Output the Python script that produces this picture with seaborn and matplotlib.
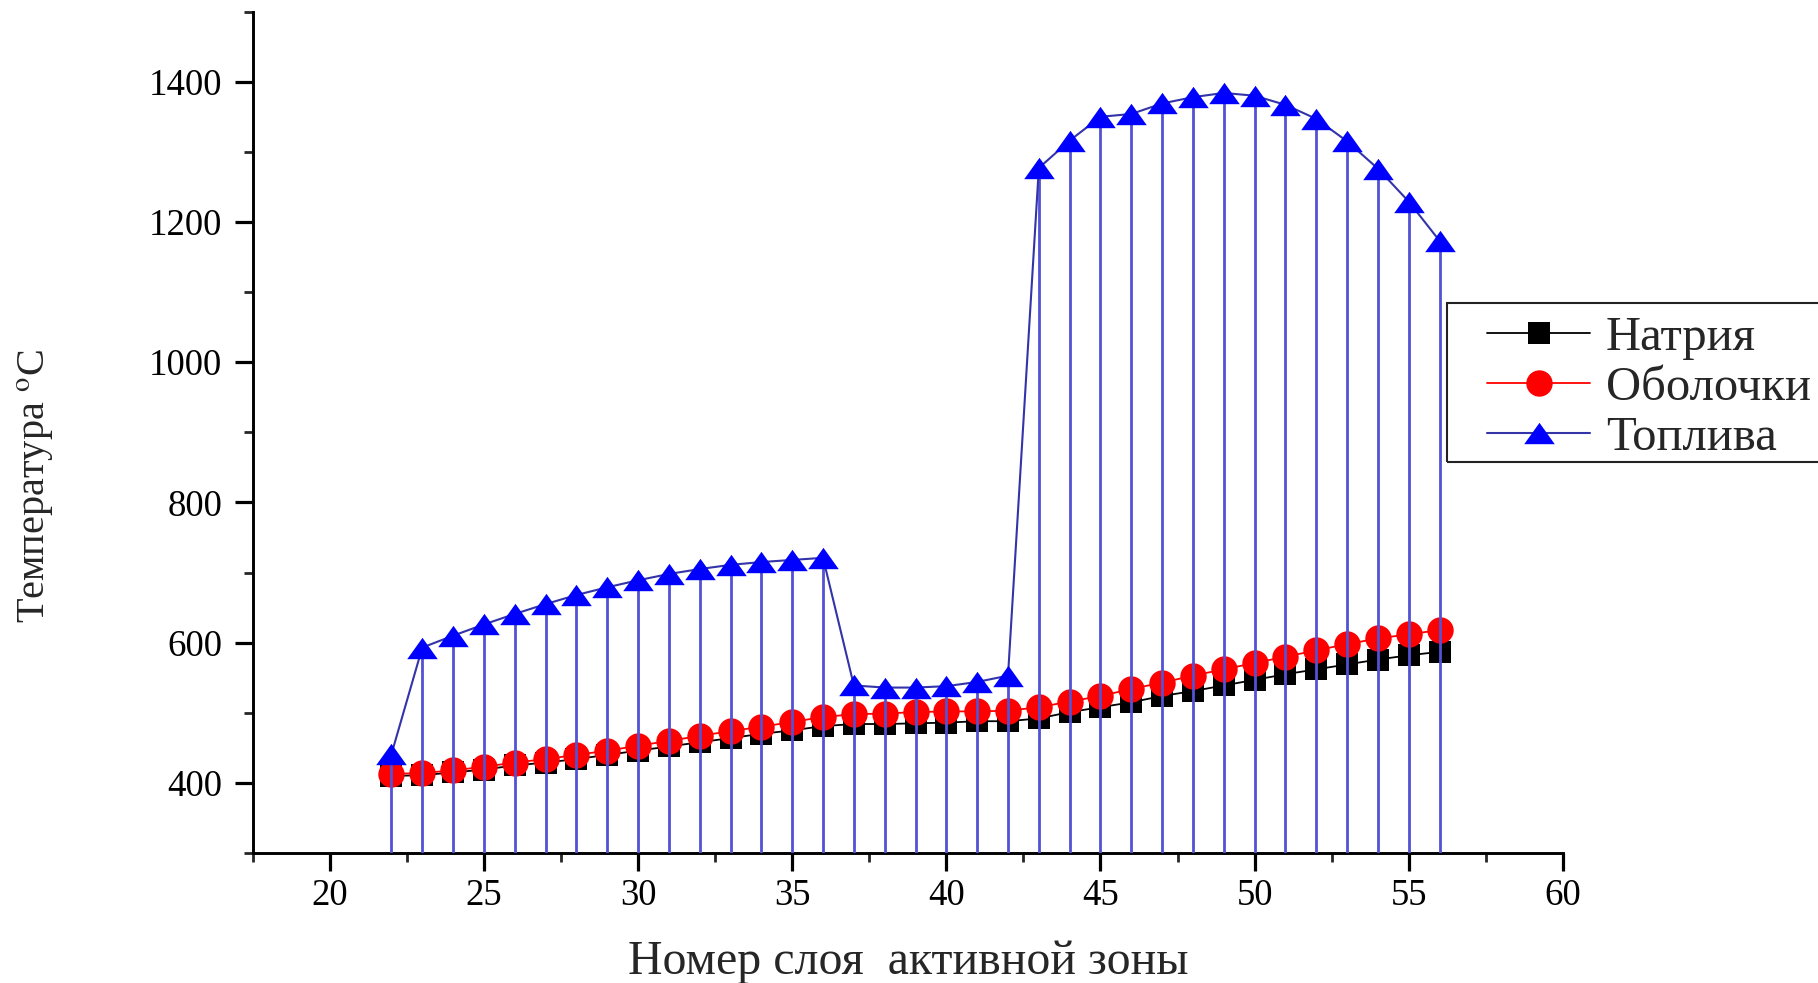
import numpy as np
import pandas as pd
import matplotlib
matplotlib.use("Agg")
import matplotlib.pyplot as plt
from matplotlib.patches import Rectangle
from matplotlib.ticker import FixedLocator, MultipleLocator
import seaborn as sns

# номера слоёв активной зоны
layers = [22, 23, 24, 25, 26, 27, 28, 29, 30, 31, 32, 33, 34, 35, 36,
          37, 38, 39, 40, 41, 42, 43, 44, 45, 46, 47, 48, 49, 50, 51,
          52, 53, 54, 55, 56]

# температуры, oC
sodium = [410, 411, 415, 419, 425, 429, 434, 440, 446, 452, 458, 464, 470, 475, 481,
          484, 484, 485, 486, 488, 488, 492, 501, 508, 515, 524, 531, 539, 547, 555,
          562, 569, 576, 582, 587]
cladding = [413, 414, 418, 423, 429, 434, 440, 446, 453, 460, 467, 474, 480, 487, 494,
            498, 499, 501, 502, 502, 503, 508, 516, 524, 534, 543, 553, 562, 571, 580,
            589, 598, 606, 612, 618]
fuel = [441, 593, 610, 626, 641, 655, 668, 679, 689, 698, 705, 711, 715, 718, 721,
        539, 536, 536, 538, 544, 553, 1277, 1316, 1350, 1354, 1369, 1378, 1384, 1380, 1367,
        1347, 1315, 1276, 1229, 1173]

series_names = ["Натрия", "Оболочки", "Топлива"]

df = pd.DataFrame({"layer": layers, "sodium": sodium, "cladding": cladding, "fuel": fuel})

sns.set_style("ticks")
plt.rcParams["font.family"] = ["Liberation Serif", "DejaVu Serif"]
plt.rcParams["mathtext.fontset"] = "stix"

W, H = 1818, 983
fig = plt.figure(figsize=(W / 100, H / 100), dpi=100)
ax = fig.add_axes([0.139, 0.1322, 0.7207, 0.856])

tri = [(0, 0.7), (-1, -0.7), (1, -0.7), (0, 0.7)]

sns.lineplot(data=df, x="layer", y="sodium", ax=ax, color="black", lw=1.3,
             marker="s", markersize=15.5, markeredgewidth=0, label=series_names[0], zorder=2)
sns.lineplot(data=df, x="layer", y="cladding", ax=ax, color="#ff0000", lw=1.3,
             marker="o", markersize=19, markeredgewidth=0, label=series_names[1], zorder=3)
ax.vlines(df["layer"], 300, df["fuel"], color="#5252d4", lw=2.0, zorder=4)
sns.lineplot(data=df, x="layer", y="fuel", ax=ax, color="#3333aa", lw=1.5,
             marker=tri, markersize=22, markeredgewidth=0, markerfacecolor="#0000ff",
             label=series_names[2], zorder=5)

ax.set_xlim(17.5, 60)
ax.set_ylim(300, 1500)
ax.xaxis.set_major_locator(FixedLocator([20, 25, 30, 35, 40, 45, 50, 55, 60]))
ax.xaxis.set_minor_locator(MultipleLocator(2.5))
ax.yaxis.set_major_locator(FixedLocator([400, 600, 800, 1000, 1200, 1400]))
ax.yaxis.set_minor_locator(MultipleLocator(100))

for s in ["top", "right"]:
    ax.spines[s].set_visible(False)
for s in ["left", "bottom"]:
    ax.spines[s].set_linewidth(2.1)
    ax.spines[s].set_color("black")
ax.tick_params(which="major", direction="out", length=13, width=2.3, labelsize=26.5, colors="black")
ax.tick_params(axis="y", which="major", pad=9)
ax.tick_params(axis="x", which="major", pad=5)
ax.tick_params(which="minor", direction="out", length=6.5, width=2.0)

ax.set_xlabel("Номер слоя  активной зоны", fontsize=34.5, va="center")
ax.xaxis.set_label_coords(0.5, (853 - 962) / 841.5)
ax.set_ylabel(r"Температура $^{\rm o}$C", fontsize=29, va="center")
ax.yaxis.set_label_coords((36 - 252.7) / 1310.3, (853 - 486) / 841.5)

# рамка легенды выходит за правый край рисунка
fig.add_artist(Rectangle((1447 / W, 1 - 462 / H), 0.3, 159 / H, transform=fig.transFigure,
                         fill=False, edgecolor="#222222", lw=1.5, clip_on=False))
ax.legend(loc="upper left", bbox_to_anchor=(1487 / W, 1 - 316 / H),
          bbox_transform=fig.transFigure, borderaxespad=0, borderpad=0, fontsize=35,
          frameon=False, handlelength=2.12, handletextpad=0.33, labelspacing=0.12)

fig.savefig("out.png", dpi=100)
